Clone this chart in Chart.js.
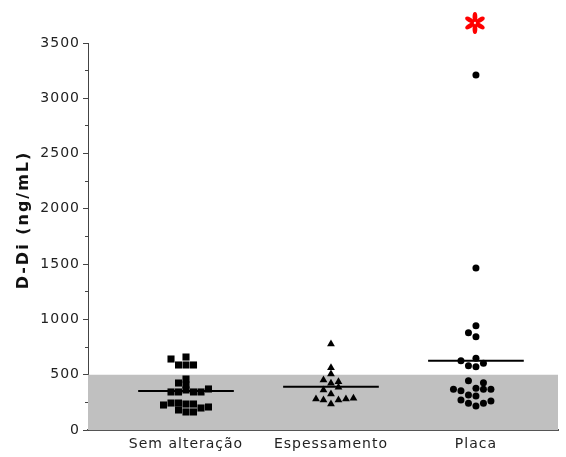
<!DOCTYPE html>
<html>
<head>
<meta charset="utf-8">
<script src="https://cdn.jsdelivr.net/npm/chart.js@4.4.1/dist/chart.umd.min.js"></script>
<style>
  html, body { margin: 0; padding: 0; background: #fff; }
</style>
</head>
<body>
<canvas id="chart" width="566" height="457"></canvas>
<script>
// categories and values
const categories = ["Sem alteração", "Espessamento", "Placa"];
const yTitle = "D-Di (ng/mL)";

const semAlteracao = [642, 660, 588, 588, 588, 461, 425, 407, 344, 344, 362, 344, 344, 371, 226, 244, 244, 181, 235, 163, 235, 163, 199, 208];
const semAlteracaoJitter = [-2, 0, -1, 0, 1, 0, -1, 0, -2, -1, 0, 1, 2, 3, -3, -2, -1, -1, 0, 0, 1, 1, 2, 3];

const espessamento = [778, 563, 506, 452, 437, 422, 386, 362, 326, 280, 271, 271, 280, 287, 235];
const espessamentoJitter = [0, 0, 0, -1, 1, 0, 1, -1, 0, -2, -1, 1, 2, 3, 0];

const placa = [3210, 1465, 943, 880, 844, 627, 648, 582, 573, 603, 446, 428, 368, 355, 377, 368, 368, 317, 307, 271, 241, 217, 241, 262];
const placaJitter = [0, 0, 0, -1, 0, -2, 0, -1, 0, 1, -1, 1, -3, -2, 0, 1, 2, -1, 0, -2, -1, 0, 1, 2];

const means = [353, 391, 627];
const referenceLimit = 500;
const yMax = 3500;
const xMin = 0.324, xMax = 3.566;

const STEP = 0.0517;      // horizontal spacing of stacked markers, in category units
const HALF_LINE = 0.33;   // half width of the mean line

function toPoints(cat, values, jitter) {
    return values.map((v, i) => ({ x: cat + jitter[i] * STEP, y: v }));
}

const extras = {
    id: "extras",
    beforeDraw(chart) {
        chart.ctx.letterSpacing = "1px";
    },
    afterDraw(chart) {
        const { ctx, chartArea, scales } = chart;

        // y axis title
        ctx.save();
        ctx.translate(24, 220);
        ctx.rotate(-Math.PI / 2);
        ctx.font = 'bold 16px "DejaVu Sans"';
        ctx.letterSpacing = "2px";
        ctx.fillStyle = "#111";
        ctx.textAlign = "center";
        ctx.textBaseline = "middle";
        ctx.fillText(yTitle, 0, 0);
        ctx.restore();

        // red asterisk above "Placa"
        const cx = scales.x.getPixelForValue(3) - 1;
        const cy = chartArea.top - 20;
        ctx.save();
        ctx.fillStyle = "#ff0000";
        for (let k = 0; k < 6; k++) {
            const a = -Math.PI / 2 + k * Math.PI / 3;
            ctx.beginPath();
            ctx.ellipse(cx + Math.cos(a) * 6, cy + Math.sin(a) * 6, 5, 2.4, a, 0, Math.PI * 2);
            ctx.fill();
        }
        ctx.restore();
    }
};

const datasets = [
    {
        type: "line",
        data: [{ x: xMin, y: referenceLimit }, { x: xMax, y: referenceLimit }],
        borderWidth: 0,
        pointRadius: 0,
        fill: "origin",
        backgroundColor: "#c0c0c0",
        order: 10
    },
    {
        data: toPoints(1, semAlteracao, semAlteracaoJitter),
        pointStyle: "rect",
        pointRadius: 5,
        backgroundColor: "#000",
        borderWidth: 0
    },
    {
        data: toPoints(2, espessamento, espessamentoJitter),
        pointStyle: "triangle",
        pointRadius: 4.5,
        backgroundColor: "#000",
        borderWidth: 0
    },
    {
        data: toPoints(3, placa, placaJitter),
        pointStyle: "circle",
        pointRadius: 3.5,
        backgroundColor: "#000",
        borderWidth: 0
    }
];

means.forEach((m, i) => {
    datasets.push({
        type: "line",
        data: [{ x: i + 1 - HALF_LINE, y: m }, { x: i + 1 + HALF_LINE, y: m }],
        borderColor: "#000",
        borderWidth: 2,
        pointRadius: 0
    });
});

new Chart(document.getElementById("chart"), {
    type: "scatter",
    data: { datasets },
    plugins: [extras],
    options: {
        responsive: false,
        animation: false,
        layout: { padding: { top: 43, right: 8, left: 0, bottom: 0 } },
        plugins: {
            legend: { display: false },
            tooltip: { enabled: false }
        },
        scales: {
            x: {
                type: "linear",
                min: xMin,
                max: xMax,
                afterBuildTicks: (s) => { s.ticks = categories.map((c, i) => ({ value: i + 1 })); },
                ticks: {
                    callback: (v) => categories[v - 1],
                    color: "#222",
                    font: { family: "DejaVu Sans", size: 14 },
                    maxRotation: 0,
                    autoSkip: false,
                    padding: 6
                },
                grid: { display: false, drawTicks: false, tickLength: 0 },
                border: { display: true, color: "#555", width: 2 },
                afterFit: (s) => { s.height = 27; }
            },
            y: {
                position: "left",
                weight: 1,
                min: 0,
                max: yMax,
                ticks: {
                    stepSize: 500,
                    callback: (v) => String(v),
                    color: "#222",
                    font: { family: "DejaVu Sans", size: 14 },
                    padding: 3
                },
                grid: { drawOnChartArea: false, tickLength: 5, color: "#444" },
                border: { display: true, color: "#444", width: 1 },
                afterFit: (s) => { s.width = 88; }
            },
            yMinor: {
                position: "left",
                weight: 0,
                min: 0,
                max: yMax,
                ticks: { stepSize: 250, display: false },
                grid: { drawOnChartArea: false, tickLength: 3, color: "#444" },
                border: { display: false },
                afterFit: (s) => { s.width = 0; }
            }
        }
    }
});
</script>
</body>
</html>
